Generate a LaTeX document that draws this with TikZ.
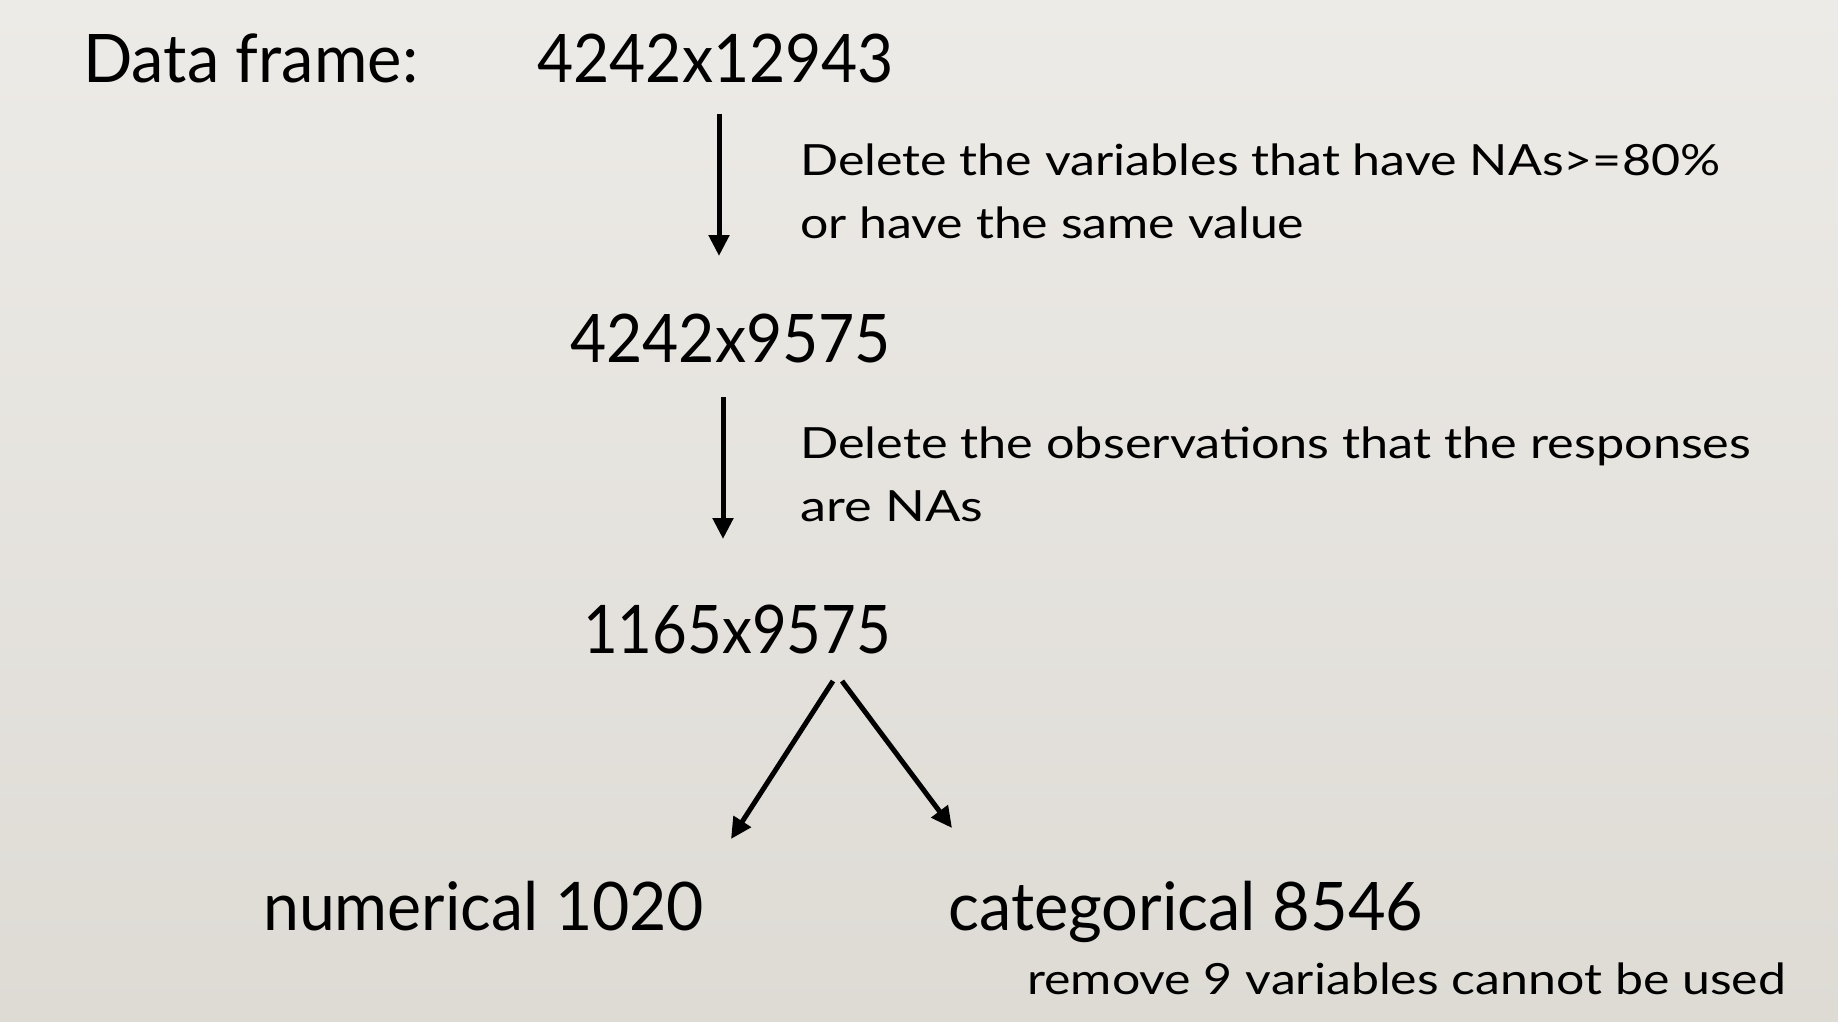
\documentclass[tikz,border=0pt]{standalone}
\usepackage{fontspec}
\setmainfont{Lato}
\usetikzlibrary{arrows.meta}
\newlength\fitlen
\newcommand\fitw[2]{\settowidth\fitlen{#2}\pgfmathsetmacro\fitsx{#1/\fitlen}\scalebox{\fitsx}[1]{#2}}
\definecolor{bgtop}{RGB}{237,235,231}
\definecolor{bgbot}{RGB}{222,219,213}
\tikzset{
  big/.style={anchor=base west, inner sep=0pt, font=\fontsize{67}{80}\selectfont},
  small/.style={anchor=base west, inner sep=0pt, font=\fontsize{43}{50}\selectfont},
  arr/.style={line width=5pt, -{Triangle[length=21pt,width=20pt]}}
}
\begin{document}
\begin{tikzpicture}[x=1pt,y=1pt]
\useasboundingbox (0,0) rectangle (1838,-1021);
\shade[top color=bgtop, bottom color=bgbot] (0,0) rectangle (1838,-1021);
% texts
\node[big] (df) at (83,-82) {\fitw{335}{Data frame:}};
\node[big] (n1) at (537,-82) {\fitw{357}{4242x12943}};
\node[small] (t1) at (800,-175) {\fitw{920}{Delete the variables that have NAs>=80\%}};
\node[small] (t1b) at (800,-238) {\fitw{504}{or have the same value}};
\node[big] (n2) at (570,-362) {\fitw{321}{4242x9575}};
\node[small] (t2) at (800,-458) {\fitw{951}{Delete the observations that the responses}};
\node[small] (t2b) at (800,-521) {\fitw{183}{are NAs}};
\node[big] (n3) at (583,-653) {\fitw{308}{1165x9575}};
\node[big] (n4) at (263,-930) {\fitw{441}{numerical 1020}};
\node[big] (n5) at (948,-930) {\fitw{475}{categorical 8546}};
\node[small] (n6) at (1027,-994) {\fitw{759}{remove 9 variables cannot be used}};
% connector ends
\coordinate (a1s) at (719,-114);
\coordinate (a1e) at (719,-256);
\coordinate (a2s) at (723,-397);
\coordinate (a2e) at (723,-539);
\coordinate (a3s) at (833,-681);
\coordinate (a3e) at (731,-839);
\coordinate (a4s) at (842,-681);
\coordinate (a4e) at (952,-828);
\draw[arr] (a1s) -- (a1e);
\draw[arr] (a2s) -- (a2e);
\draw[arr] (a3s) -- (a3e);
\draw[arr] (a4s) -- (a4e);
\end{tikzpicture}
\end{document}
